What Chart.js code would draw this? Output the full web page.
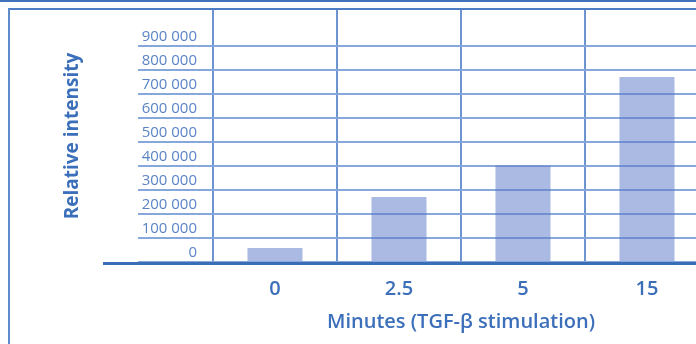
<!DOCTYPE html>
<html>
<head>
<meta charset="utf-8">
<script src="https://cdn.jsdelivr.net/npm/chart.js@4/dist/chart.umd.min.js"></script>
<style>
  body { margin: 0; background: #fff; overflow: hidden; width: 696px; height: 344px; position: relative; }
  .topline { position: absolute; left: 0; top: 0; width: 696px; height: 2px; background: #3f72bb; }
  .frame { position: absolute; left: 8px; top: 8px; width: 700px; height: 400px;
           border-left: 2px solid #5f8ccb; border-top: 2px solid #4d7dc2; box-sizing: border-box; }
  #wrap { position: absolute; left: 0; top: 0; width: 730px; height: 344px; }
</style>
</head>
<body>
<div class="topline"></div>
<div class="frame"></div>
<div id="wrap"><canvas id="c" width="730" height="344"></canvas></div>
<script>
// values
const minutes = ['0', '2.5', '5', '15'];
const intensity = [58000, 271000, 402000, 771000];
const yTicks = [0, 100000, 200000, 300000, 400000, 500000, 600000, 700000, 800000, 900000];

const font = '"Open Sans", "Noto Sans", sans-serif';
const fmt = v => String(v).replace(/\B(?=(\d{3})+(?!\d))/g, ' ');

// thick baseline running past the y axis, under the tick labels
const baseline = {
  id: 'baseline',
  afterDraw(chart) {
    const { ctx, chartArea } = chart;
    const y = chart.scales.y.getPixelForValue(0) + 1.5;
    ctx.save();
    ctx.strokeStyle = '#3a6db8';
    ctx.lineWidth = 3;
    ctx.beginPath();
    ctx.moveTo(103, y);
    ctx.lineTo(chartArea.right + 20, y);
    ctx.stroke();
    ctx.restore();
  }
};

new Chart(document.getElementById('c'), {
  type: 'bar',
  data: {
    labels: minutes,
    datasets: [{
      data: intensity,
      backgroundColor: 'rgba(88,118,198,0.5)',
      borderWidth: 0,
      barPercentage: 0.444,
      categoryPercentage: 1
    }]
  },
  options: {
    responsive: false,
    animation: false,
    layout: { padding: { top: 10, right: 21, left: 0, bottom: 0 } },
    plugins: { legend: { display: false }, tooltip: { enabled: false } },
    scales: {
      x: {
        offset: true,
        grid: { offset: true, color: '#6f95d1', lineWidth: 2, drawTicks: false },
        border: { display: false },
        ticks: { color: '#3c6fba', padding: 15, font: { family: font, size: 20, weight: '600' } },
        title: {
          display: true,
          text: 'Minutes (TGF-β stimulation)',
          color: '#3c6fba',
          font: { family: font, size: 20, weight: '600' },
          padding: { top: 0, bottom: 10 }
        },
        afterFit(s) { s.height = 82; }
      },
      y: {
        min: 0,
        max: 1050000,
        afterBuildTicks(s) { s.ticks = yTicks.map(v => ({ value: v })); },
        grid: { color: '#88a7db', lineWidth: 2, tickLength: 75 },
        border: { display: false },
        ticks: {
          color: '#5a84c6',
          padding: -59,
          labelOffset: -9,
          font: { family: font, size: 15 },
          callback: v => fmt(v)
        },
        title: {
          display: true,
          text: 'Relative intensity',
          color: '#3c6fba',
          font: { family: font, size: 19, weight: '700' },
          padding: { top: 61, bottom: 0 }
        },
        afterFit(s) { s.width = 213; }
      }
    }
  },
  plugins: [baseline]
});
</script>
</body>
</html>
